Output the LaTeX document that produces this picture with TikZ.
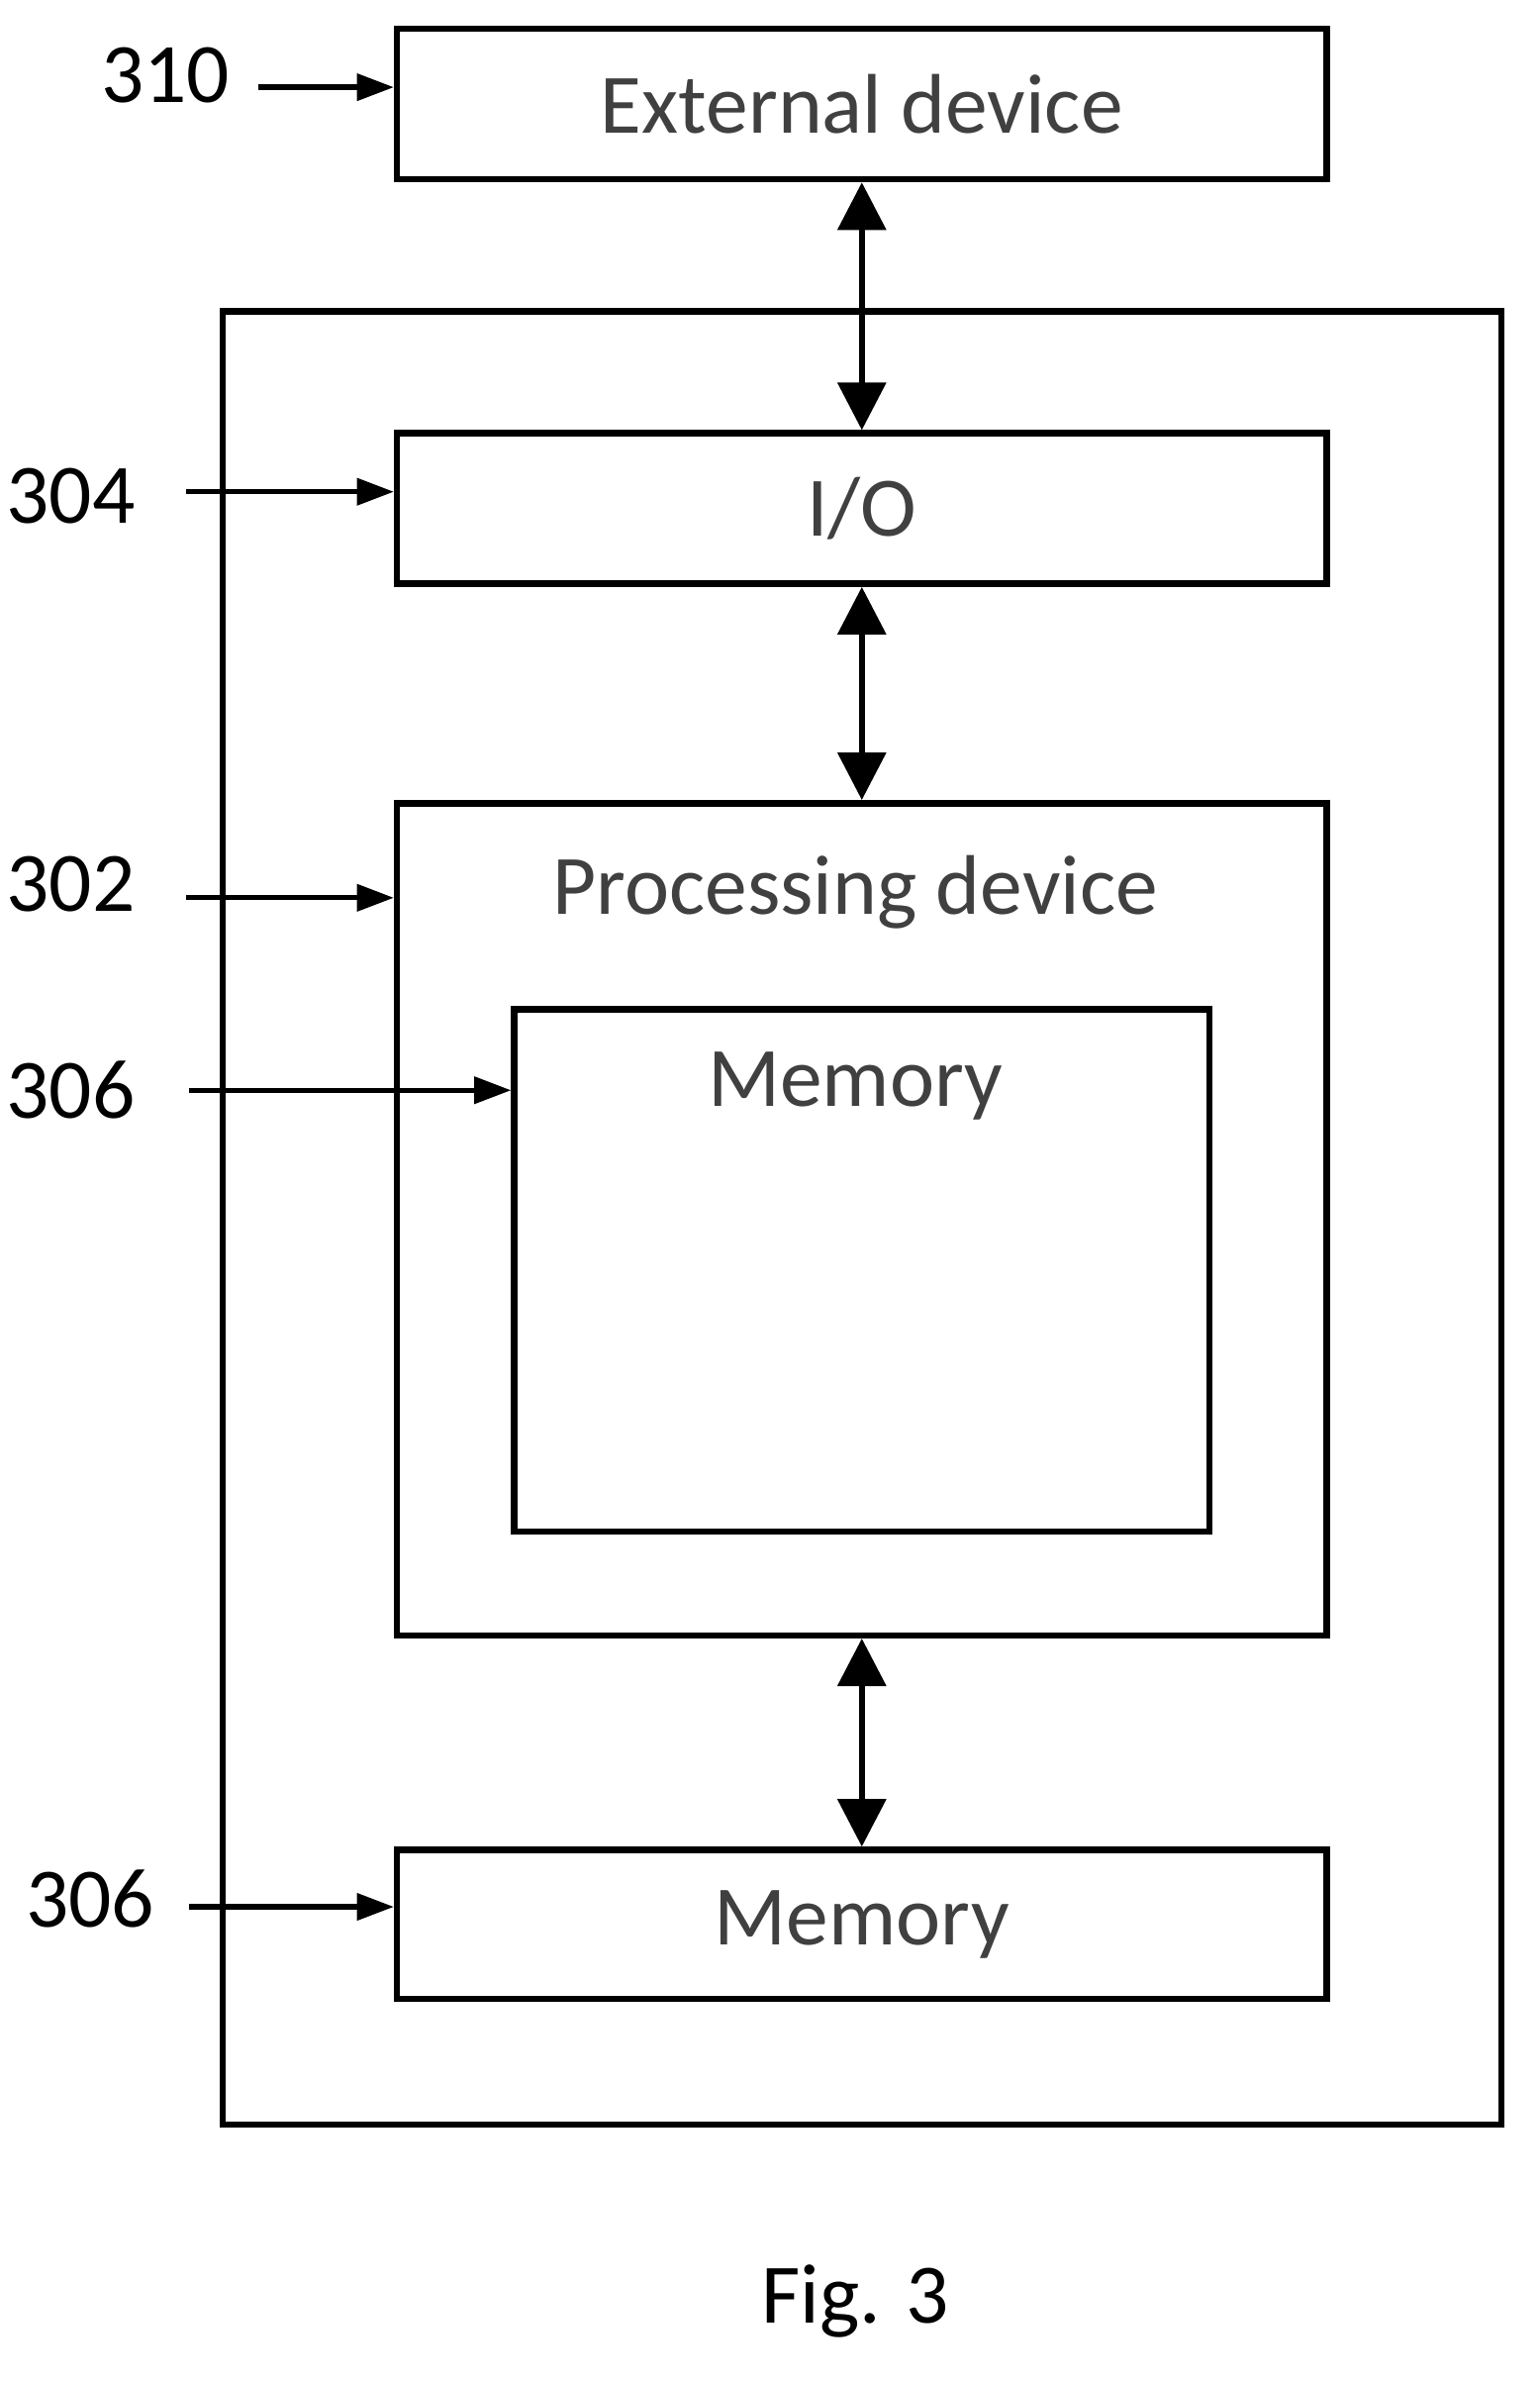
\documentclass[tikz,border=0pt]{standalone}
\usepackage{fontspec}
\setmainfont{Carlito}
\usetikzlibrary{arrows.meta}
\tikzset{
  box/.style={draw, line width=1.2pt, anchor=north west, inner sep=0pt},
  lbl/.style={text=black!75, font=\fontsize{16}{18}\selectfont},
  num/.style={font=\fontsize{16}{18}\selectfont},
  link/.style={line width=1.2pt, {Triangle[length=9pt,width=9pt]}-{Triangle[length=9pt,width=9pt]}},
  ptr/.style={line width=1pt, -{Triangle[length=7pt,width=5pt]}}
}
\begin{document}
\begin{tikzpicture}[x=0.01cm,y=-0.01cm]
        \useasboundingbox (0,0) rectangle (1024,1584);
        %%% BOXES %%%
        \node[box, minimum width=618\pgflinewidth, minimum width=6.18cm, minimum height=1cm] (ext) at (262,17) {};
        \node[lbl] at (ext.center) {External device};
        \node[box, minimum width=8.5cm, minimum height=12.05cm] (outer) at (146,205) {};
        \node[box, minimum width=6.18cm, minimum height=1cm] (io) at (262,286) {};
        \node[lbl] at (io.center) {I/O};
        \node[box, minimum width=6.18cm, minimum height=5.53cm] (proc) at (262,532) {};
        \node[lbl] (proctxt) at (569,593) {Processing device};
        \node[box, minimum width=4.62cm, minimum height=3.47cm] (inmem) at (340,669) {};
        \node[lbl] (inmemtxt) at (569,722) {Memory};
        \node[box, minimum width=6.18cm, minimum height=0.99cm] (mem) at (262,1228) {};
        \node[lbl] at (mem.center) {Memory};

        %%% LINKS %%%
        \draw[link] (ext.south) -- (io.north);
        \draw[link] (io.south) -- (proc.north);
        \draw[link] (proc.south) -- (mem.north);

        %%% REFERENCE NUMBERS %%%
        \node[num] (n310) at (110,50) {310};
        \node[num] (n304) at (47,330) {304};
        \node[num] (n302) at (47,588) {302};
        \node[num] (n306a) at (47,725) {306};
        \node[num] (n306b) at (60,1263) {306};
        \coordinate (p310) at (172,58);
        \coordinate (p304) at (124,327);
        \coordinate (p302) at (124,597);
        \coordinate (p306a) at (126,725);
        \coordinate (p306b) at (126,1268);
        \draw[ptr] (p310) -- (ext.west |- p310);
        \draw[ptr] (p304) -- (io.west |- p304);
        \draw[ptr] (p302) -- (proc.west |- p302);
        \draw[ptr] (p306a) -- (inmem.west |- p306a);
        \draw[ptr] (p306b) -- (mem.west |- p306b);

        \node[num] (fig) at (569,1530) {Fig. 3};
\end{tikzpicture}
\end{document}
